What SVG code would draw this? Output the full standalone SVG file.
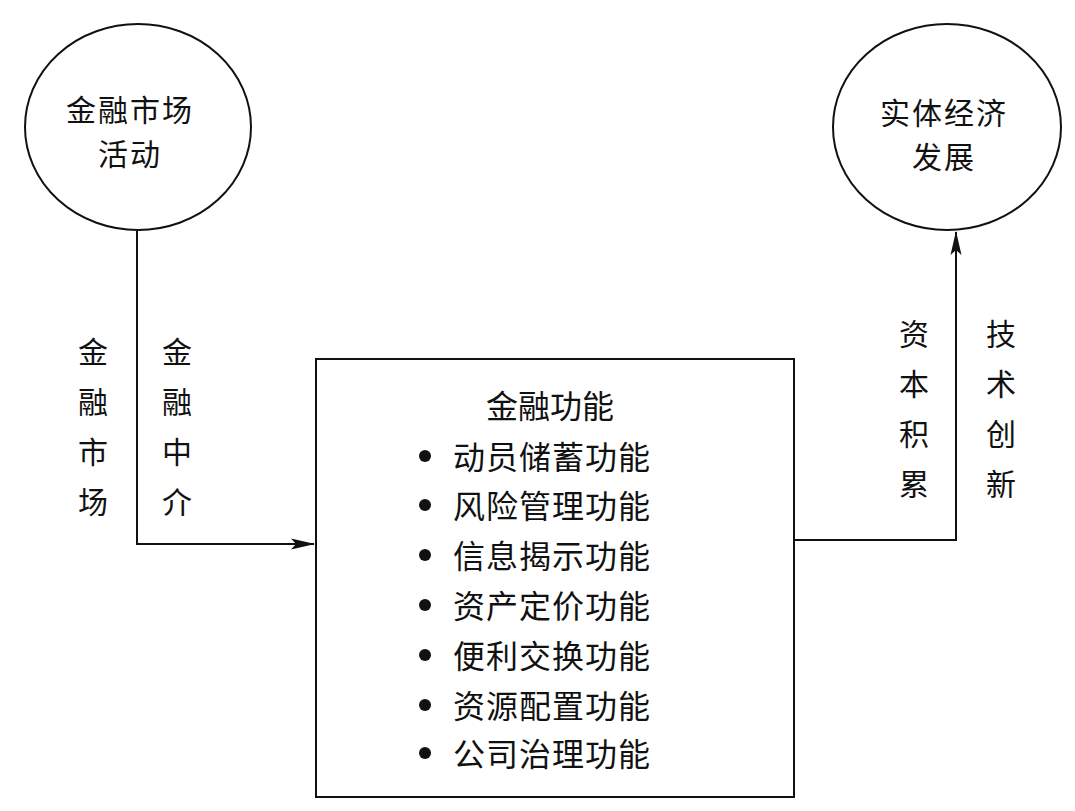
<svg xmlns="http://www.w3.org/2000/svg" width="1075" height="811" viewBox="0 0 1075 811">
<style>
.shape{fill:none;stroke:#111;stroke-width:2}
.line{fill:none;stroke:#111;stroke-width:2}
.t{font-family:"Noto Sans CJK SC","Noto Sans CJK JP",sans-serif;fill:#111;font-size:32px}
.c{font-family:"Noto Sans CJK SC","Noto Sans CJK JP",sans-serif;fill:#111;font-size:30px;letter-spacing:2px;text-anchor:middle}
.v{font-family:"Noto Sans CJK SC","Noto Sans CJK JP",sans-serif;fill:#111;font-size:30px;text-anchor:middle}
.m{text-anchor:middle}
</style>
<defs>
<marker id="arr" viewBox="0 0 24 12" refX="23" refY="6" markerWidth="24" markerHeight="12" markerUnits="userSpaceOnUse" orient="auto">
<path d="M0,0.5 L24,6 L0,11.5 L5,6 Z" fill="#111"/>
</marker>
</defs>
<rect width="1075" height="811" fill="#fff"/>
<g id="connectors">
<polyline class="line" points="137,231 137,544 314,544" marker-end="url(#arr)"/>
<polyline class="line" points="795,540 956,540 956,232" marker-end="url(#arr)"/>
</g>
<g id="node-market">
<ellipse class="shape" cx="138" cy="127" rx="113" ry="103"/>
<text class="c" x="130" y="121">金融市场</text>
<text class="c" x="130" y="165">活动</text>
</g>
<g id="node-real">
<ellipse class="shape" cx="947" cy="127" rx="114" ry="103"/>
<text class="c" x="944" y="124">实体经济</text>
<text class="c" x="944" y="168">发展</text>
</g>
<g id="label-market">
<text class="v" x="93" y="363">金</text>
<text class="v" x="93" y="413">融</text>
<text class="v" x="93" y="463">市</text>
<text class="v" x="93" y="513">场</text>
</g>
<g id="label-intermediary">
<text class="v" x="177" y="363">金</text>
<text class="v" x="177" y="413">融</text>
<text class="v" x="177" y="463">中</text>
<text class="v" x="177" y="513">介</text>
</g>
<g id="label-capital">
<text class="v" x="914" y="345">资</text>
<text class="v" x="914" y="395">本</text>
<text class="v" x="914" y="445">积</text>
<text class="v" x="914" y="495">累</text>
</g>
<g id="label-tech">
<text class="v" x="1001" y="345">技</text>
<text class="v" x="1001" y="395">术</text>
<text class="v" x="1001" y="445">创</text>
<text class="v" x="1001" y="495">新</text>
</g>
<g id="node-functions">
<rect class="shape" x="316" y="359" width="478" height="438"/>
<text class="t m" x="550" y="418">金融功能</text>
<g fill="#111">
<circle cx="425" cy="456" r="6"/>
<circle cx="425" cy="505" r="6"/>
<circle cx="425" cy="555" r="6"/>
<circle cx="425" cy="605" r="6"/>
<circle cx="425" cy="655" r="6"/>
<circle cx="425" cy="705" r="6"/>
<circle cx="425" cy="753" r="6"/>
</g>
<g class="t" letter-spacing="1">
<text x="453" y="469">动员储蓄功能</text>
<text x="453" y="518">风险管理功能</text>
<text x="453" y="568">信息揭示功能</text>
<text x="453" y="618">资产定价功能</text>
<text x="453" y="668">便利交换功能</text>
<text x="453" y="718">资源配置功能</text>
<text x="453" y="766">公司治理功能</text>
</g>
</g>
</svg>
